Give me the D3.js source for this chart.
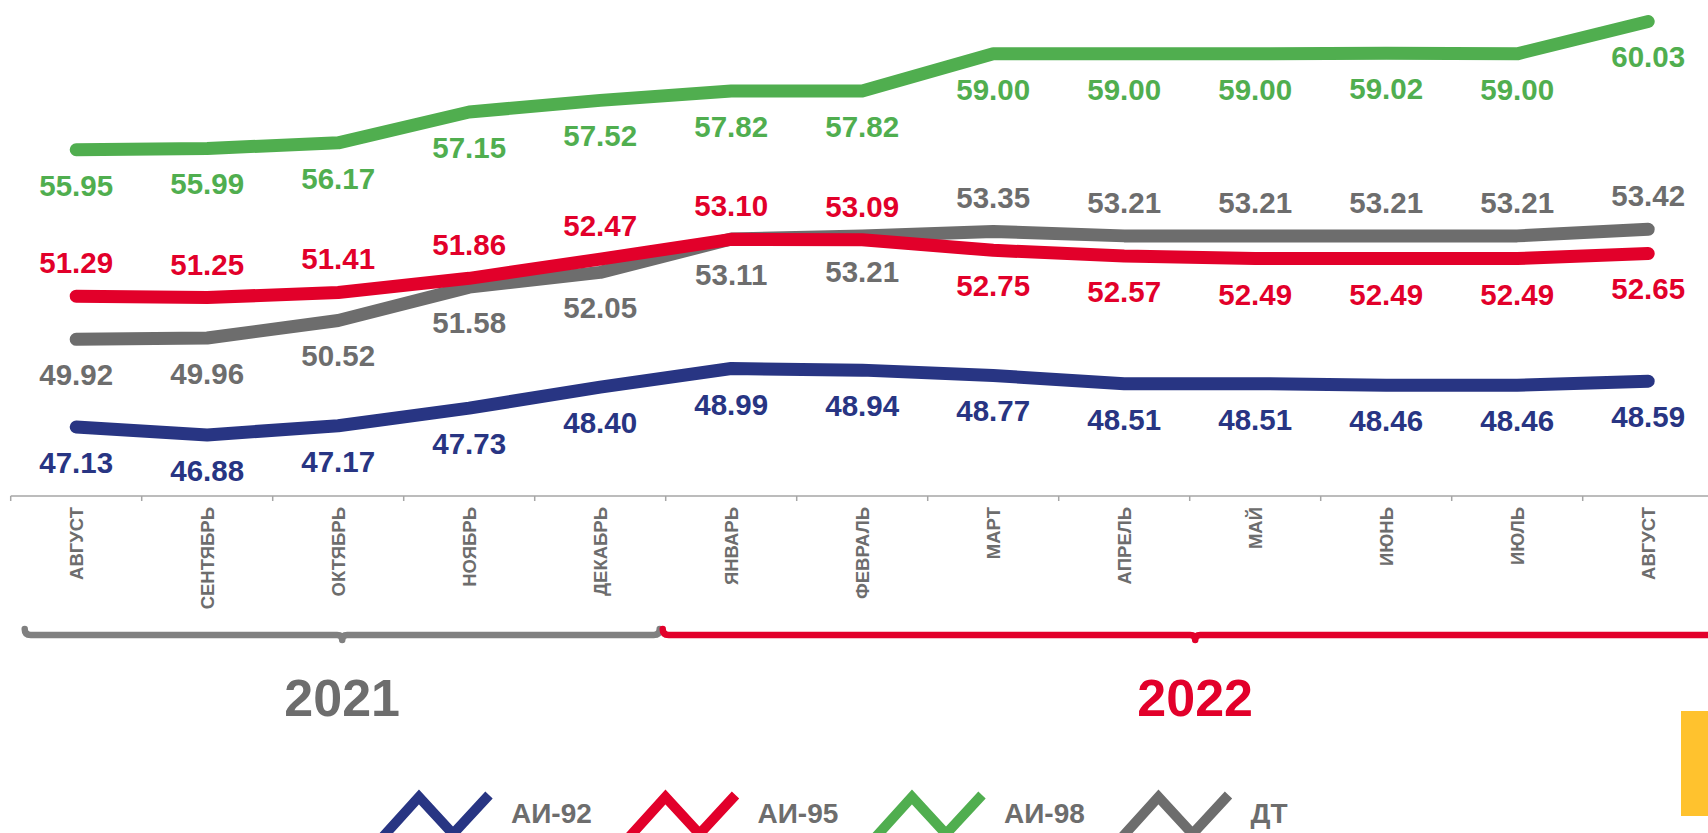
<!DOCTYPE html>
<html>
<head>
<meta charset="utf-8">
<script src="https://cdn.jsdelivr.net/npm/d3@7"></script>
<style>
  body { margin: 0; background: #fff; }
  svg { display: block; font-family: "Liberation Sans", Arial, sans-serif; font-weight: bold; }
</style>
</head>
<body>
<svg id="chart" width="1708" height="833"></svg>
<script>
// months, Aug 2021 .. Aug 2022
const months = ['АВГУСТ', 'СЕНТЯБРЬ', 'ОКТЯБРЬ', 'НОЯБРЬ', 'ДЕКАБРЬ', 'ЯНВАРЬ', 'ФЕВРАЛЬ',
  'МАРТ', 'АПРЕЛЬ', 'МАЙ', 'ИЮНЬ', 'ИЮЛЬ', 'АВГУСТ']

const ai92 = [47.13, 46.88, 47.17, 47.73, 48.40, 48.99, 48.94, 48.77, 48.51, 48.51, 48.46, 48.46, 48.59]
const ai95 = [51.29, 51.25, 51.41, 51.86, 52.47, 53.10, 53.09, 52.75, 52.57, 52.49, 52.49, 52.49, 52.65]
const ai98 = [55.95, 55.99, 56.17, 57.15, 57.52, 57.82, 57.82, 59.00, 59.00, 59.00, 59.02, 59.00, 60.03]
const dt = [49.92, 49.96, 50.52, 51.58, 52.05, 53.11, 53.21, 53.35, 53.21, 53.21, 53.21, 53.21, 53.42]

const seriesNames = ['АИ-92', 'АИ-95', 'АИ-98', 'ДТ']
const years = ['2021', '2022']
const yearFirstMonth = [0, 5]   // index of first month of each year

const colors = { 'АИ-92': '#283583', 'АИ-95': '#e2002a', 'АИ-98': '#50ae4f', 'ДТ': '#6d6d6d' }
const textGray = '#6d6d6d'

const series = [
  { name: 'ДТ', values: dt },
  { name: 'АИ-92', values: ai92 },
  { name: 'АИ-95', values: ai95 },
  { name: 'АИ-98', values: ai98 }
]

// red and diesel swap label sides from March on
function labelAbove(name, i) {
  if (name === 'АИ-95') return i < 7
  if (name === 'ДТ') return i >= 7
  return false
}

const svg = d3.select('#chart')
const axisY = 496

const x = d3.scaleBand()
  .domain(d3.range(months.length))
  .range([10.7, 10.7 + 131 * months.length])
  .padding(0)
const xc = i => x(i) + x.bandwidth() / 2

const y = d3.scaleLinear()
  .domain([45, 60])
  .range([494, 22.4])

// axis line + ticks at band borders
const borders = d3.range(months.length + 1).map(i => x.range()[0] + i * x.step())
svg.append('line')
  .attr('x1', borders[0]).attr('x2', borders[borders.length - 1])
  .attr('y1', axisY).attr('y2', axisY)
  .attr('stroke', '#a6a6a6').attr('stroke-width', 1.5)
svg.selectAll('.border-tick')
  .data(borders)
  .enter().append('line')
  .attr('class', 'border-tick')
  .attr('x1', d => d).attr('x2', d => d)
  .attr('y1', axisY).attr('y2', axisY + 5)
  .attr('stroke', '#a6a6a6').attr('stroke-width', 1.5)

// month labels
const gx = svg.append('g')
  .attr('transform', `translate(0,${axisY})`)
  .call(d3.axisBottom(x).tickSize(0).tickFormat(i => months[i]))
gx.select('.domain').remove()
gx.selectAll('text')
  .attr('transform', 'rotate(-90)')
  .attr('text-anchor', 'end')
  .attr('x', -11)
  .attr('y', 0)
  .attr('dy', '0.35em')
  .attr('fill', textGray)
  .attr('font-size', '18.5px')
  .attr('font-weight', 'bold')
  .attr('font-family', '"Liberation Sans", Arial, sans-serif')

// lines
const line = d3.line()
  .x((d, i) => xc(i))
  .y(d => y(d))

svg.selectAll('.series')
  .data(series)
  .enter().append('path')
  .attr('class', 'series')
  .attr('fill', 'none')
  .attr('stroke', d => colors[d.name])
  .attr('stroke-width', 13)
  .attr('stroke-linecap', 'round')
  .attr('stroke-linejoin', 'round')
  .attr('d', d => line(d.values))

// value labels
series.forEach(s => {
  svg.selectAll(null)
    .data(s.values)
    .enter().append('text')
    .attr('x', (d, i) => xc(i))
    .attr('y', (d, i) => labelAbove(s.name, i) ? y(d) - 23 : y(d) + 46)
    .attr('text-anchor', 'middle')
    .attr('font-size', '29.5px')
    .attr('fill', colors[s.name])
    .text(d => d.toFixed(2))
})

// year braces
const braceY = 635
const braceColors = ['#808080', '#e2002a']
const yearColors = ['#6d6d6d', '#e2002a']
const braceInset = [[14, -6], [-3, 14]]

function bracePath(x0, x1, yy) {
  const m = (x0 + x1) / 2, c = 6
  return `M${x0},${yy - c} Q${x0},${yy} ${x0 + c},${yy} L${m - 5},${yy} Q${m},${yy} ${m},${yy + 5}` +
    ` Q${m},${yy} ${m + 5},${yy} L${x1 - c},${yy} Q${x1},${yy} ${x1},${yy - c}`
}

years.forEach((yr, k) => {
  const first = yearFirstMonth[k]
  const last = k + 1 < years.length ? yearFirstMonth[k + 1] : months.length
  const x0 = borders[first] + braceInset[k][0]
  const x1 = borders[last] + braceInset[k][1]
  svg.append('path')
    .attr('d', bracePath(x0, x1, braceY))
    .attr('fill', 'none')
    .attr('stroke', braceColors[k])
    .attr('stroke-width', 6.5)
    .attr('stroke-linecap', 'round')
    .attr('stroke-linejoin', 'round')
  svg.append('text')
    .attr('x', (x0 + x1) / 2)
    .attr('y', 716)
    .attr('text-anchor', 'middle')
    .attr('font-size', '52px')
    .attr('fill', yearColors[k])
    .text(yr)
})

// legend
const legendIcon = [[3, 840], [42, 797], [76, 834], [112, 795]]
const legend = svg.selectAll('.legend')
  .data(seriesNames)
  .enter().append('g')
  .attr('class', 'legend')
  .attr('transform', (d, i) => `translate(${377 + i * 246.5},0)`)
legend.append('path')
  .attr('d', d3.line()(legendIcon))
  .attr('fill', 'none')
  .attr('stroke', d => colors[d])
  .attr('stroke-width', 10)
  .attr('stroke-linejoin', 'miter')
legend.append('text')
  .attr('x', 134)
  .attr('y', 823)
  .attr('font-size', '28px')
  .attr('fill', textGray)
  .text(d => d)

// yellow tab at the right edge
svg.append('rect')
  .attr('x', 1681).attr('y', 711)
  .attr('width', 27).attr('height', 105)
  .attr('fill', '#ffc22e')
</script>
</body>
</html>
